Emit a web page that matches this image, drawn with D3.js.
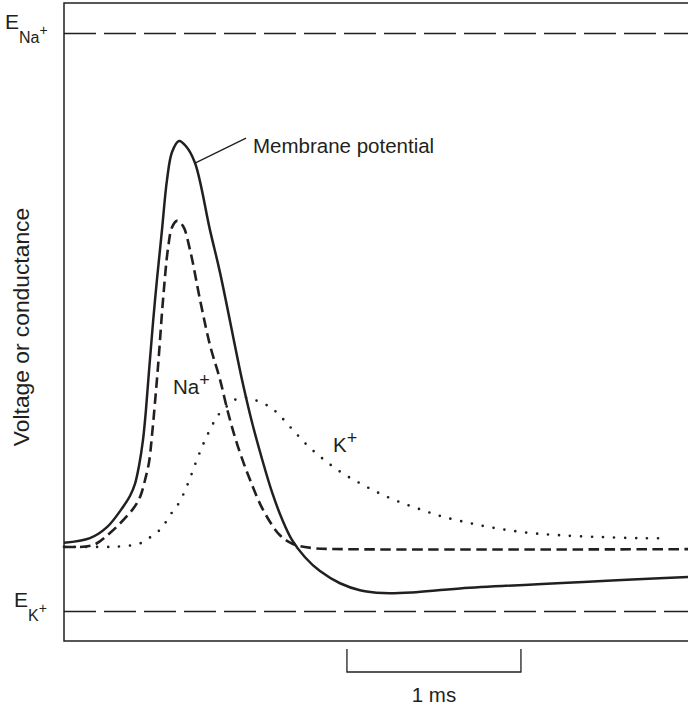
<!DOCTYPE html>
<html>
<head>
<meta charset="utf-8">
<script src="https://cdn.jsdelivr.net/npm/d3@7"></script>
<style>
  body { margin: 0; background: #fff; }
  text { font-family: "Liberation Sans", Arial, Helvetica, sans-serif; fill: #231f20; }
</style>
</head>
<body>
<svg width="688" height="706"></svg>
<script>
// time in ms, value in % of the way from E_K (0) to E_Na (100)
var membrane = [
    [0, 11.8], [0.149, 12.6], [0.247, 14.5], [0.339, 18.0], [0.379, 19.9], [0.408, 22.0],
    [0.431, 25.1], [0.454, 29.6], [0.471, 34.8], [0.489, 41.7], [0.523, 53.8], [0.563, 65.9],
    [0.592, 74.6], [0.621, 79.4], [0.661, 81.3], [0.701, 80.4], [0.753, 77.5], [0.839, 65.9],
    [0.897, 58.5], [1.023, 40.0], [1.08, 32.7], [1.138, 26.3], [1.195, 20.6], [1.253, 15.9],
    [1.31, 12.3], [1.385, 9.3], [1.471, 6.9], [1.586, 4.8], [1.701, 3.6], [1.833, 3.1],
    [2.0, 3.2], [2.276, 3.9], [3.586, 5.9]
];
var sodium = [
    [0, 11.1], [0.167, 11.4], [0.264, 13.5], [0.379, 17.0], [0.42, 18.7], [0.443, 20.2],
    [0.466, 22.7], [0.489, 25.8], [0.506, 30.5], [0.54, 42.2], [0.569, 53.8], [0.598, 62.8],
    [0.621, 66.4], [0.649, 67.5], [0.684, 66.6], [0.724, 62.5], [0.782, 53.8], [0.839, 46.0],
    [0.897, 40.0], [0.943, 34.3], [1.0, 28.4], [1.069, 22.7], [1.144, 17.5], [1.241, 13.1],
    [1.316, 11.6], [1.425, 10.9], [1.615, 10.7], [3.586, 10.7]
];
var potassium = [
    [0, 11.1], [0.27, 11.1], [0.333, 11.2], [0.397, 11.4], [0.454, 11.9], [0.506, 13.0],
    [0.557, 14.2], [0.592, 15.7], [0.626, 17.3], [0.661, 18.7], [0.713, 22.1], [0.759, 25.8],
    [0.805, 29.2], [0.862, 32.7], [0.897, 34.3], [0.943, 35.6], [0.994, 36.7], [1.057, 36.9],
    [1.115, 36.3], [1.172, 35.5], [1.224, 34.3], [1.31, 31.5], [1.397, 28.7], [1.489, 26.3],
    [1.592, 24.0], [1.701, 22.1], [1.81, 20.4], [1.925, 18.9], [2.046, 17.6], [2.167, 16.4],
    [2.333, 15.2], [2.506, 14.2], [2.678, 13.5], [2.851, 13.1], [3.08, 12.8], [3.31, 12.6],
    [3.471, 12.6]
];
var equilibria = [
    { ion: "Na", value: 100 },
    { ion: "K", value: 0 }
];
var scaleBar = [1.626, 2.626];   // 1 ms
var timeMax = 3.586;

var svg = d3.select("svg"),
    plotLeft = 64, plotRight = 688, plotTop = 3, plotBottom = 641;

var x = d3.scaleLinear().domain([0, timeMax]).range([plotLeft, plotRight]);
var y = d3.scaleLinear().domain([0, 100]).range([611, 33]);

var ink = "#231f20";

// frame
svg.append("path")
    .attr("d", "M" + plotRight + "," + plotTop + "H" + plotLeft + "V" + plotBottom + "H" + plotRight)
    .attr("fill", "none")
    .attr("stroke", ink)
    .attr("stroke-width", 1.5);

// equilibrium potentials
svg.selectAll(".eq")
    .data(equilibria)
    .enter().append("line")
    .attr("class", "eq")
    .attr("x1", plotLeft).attr("x2", plotRight)
    .attr("y1", function(d) { return y(d.value) + 0.5; })
    .attr("y2", function(d) { return y(d.value) + 0.5; })
    .attr("stroke", ink)
    .attr("stroke-width", 1.3)
    .attr("stroke-dasharray", "32,8");

var eLabel = svg.selectAll(".elabel")
    .data(equilibria)
    .enter().append("text")
    .attr("class", "elabel");
eLabel.append("tspan")
    .attr("x", function(d) { return d.ion == "Na" ? 5 : 14; })
    .attr("y", function(d) { return y(d.value) - 4; })
    .attr("font-size", 21)
    .text("E");
eLabel.append("tspan")
    .attr("y", function(d) { return y(d.value) + 10; })
    .attr("font-size", 16)
    .text(function(d) { return d.ion; });
eLabel.append("tspan")
    .attr("y", function(d) { return y(d.value) + 2; })
    .attr("font-size", 14)
    .text("+");

var line = d3.line()
    .x(function(d) { return x(d[0]); })
    .y(function(d) { return y(d[1]); })
    .curve(d3.curveCatmullRom.alpha(0.5));

svg.append("path")
    .datum(potassium)
    .attr("d", line)
    .attr("fill", "none")
    .attr("stroke", ink)
    .attr("stroke-width", 2.7)
    .attr("stroke-linecap", "round")
    .attr("stroke-dasharray", "0,11");

svg.append("path")
    .datum(sodium)
    .attr("d", line)
    .attr("fill", "none")
    .attr("stroke", ink)
    .attr("stroke-width", 2.6)
    .attr("stroke-dasharray", "10.5,5.5");

svg.append("path")
    .datum(membrane)
    .attr("d", line)
    .attr("fill", "none")
    .attr("stroke", ink)
    .attr("stroke-width", 2.5);

// labels
svg.append("line")
    .attr("x1", x(0.753)).attr("y1", y(77.5))
    .attr("x2", x(1.046)).attr("y2", y(81.8))
    .attr("stroke", ink).attr("stroke-width", 1.3);
svg.append("text")
    .attr("x", x(1.086)).attr("y", y(79.2))
    .attr("font-size", 20.5)
    .text("Membrane potential");

var na = svg.append("text").attr("x", x(0.626)).attr("y", y(37.5)).attr("font-size", 20.5);
na.append("tspan").text("Na");
na.append("tspan").attr("dy", -8).attr("font-size", 18).text("+");

var k = svg.append("text").attr("x", x(1.546)).attr("y", y(27.5)).attr("font-size", 20.5);
k.append("tspan").text("K");
k.append("tspan").attr("dy", -8).attr("font-size", 18).text("+");

svg.append("text")
    .attr("transform", "translate(29," + 327 + ") rotate(-90)")
    .attr("text-anchor", "middle")
    .attr("font-size", 22.8)
    .text("Voltage or conductance");

// 1 ms scale bar
svg.append("path")
    .attr("d", "M" + x(scaleBar[0]) + ",649V672H" + x(scaleBar[1]) + "V649")
    .attr("fill", "none")
    .attr("stroke", ink)
    .attr("stroke-width", 1.3);
svg.append("text")
    .attr("x", x((scaleBar[0] + scaleBar[1]) / 2))
    .attr("y", 702)
    .attr("text-anchor", "middle")
    .attr("font-size", 20.5)
    .text("1 ms");
</script>
</body>
</html>
